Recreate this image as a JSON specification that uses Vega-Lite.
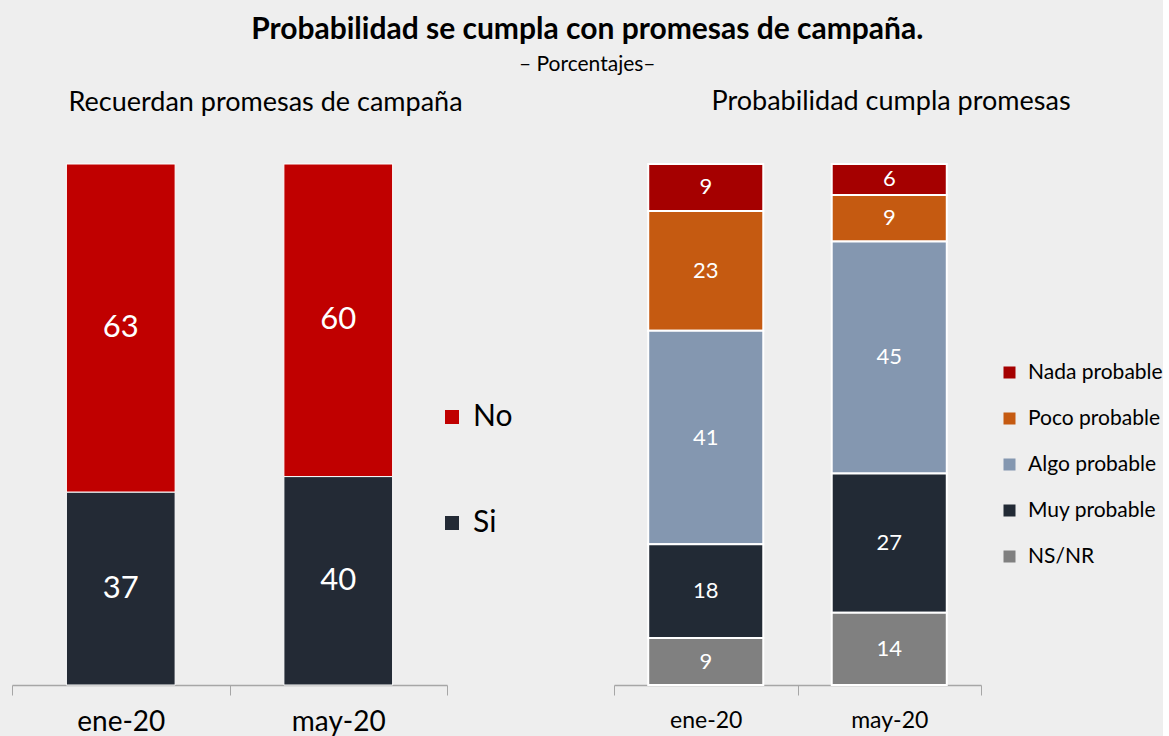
{
  "$schema": "https://vega.github.io/schema/vega-lite/v6.json",
  "background": "#eeeeee",
  "padding": {"left": 11, "top": 15, "right": 0, "bottom": 2},
  "title": {
    "text": "Probabilidad se cumpla con promesas de campaña.",
    "subtitle": "– Porcentajes–",
    "font": "Lato", "fontSize": 30, "fontWeight": "bold", "color": "#000000",
    "subtitleFont": "Lato", "subtitleFontSize": 21, "subtitleColor": "#000000", "subtitlePadding": 9,
    "anchor": "middle", "frame": "bounds", "offset": 13
  },
  "config": {"view": {"stroke": null}, "font": "Lato"},
  "resolve": {"scale": {"color": "independent"}, "legend": {"color": "independent"}},
  "bounds": "flush",
  "spacing": 167,
  "hconcat": [
    {
      "width": 435, "height": 521,
      "title": {"text": "Recuerdan promesas de campaña", "fontSize": 27, "fontWeight": "normal", "color": "#000000", "anchor": "start", "dx": 57, "offset": 47},
      "data": {"values": [
        {"mes": "ene-20", "resp": "No", "valor": 63, "k": 2},
        {"mes": "ene-20", "resp": "Si", "valor": 37, "k": 1},
        {"mes": "may-20", "resp": "No", "valor": 60, "k": 2},
        {"mes": "may-20", "resp": "Si", "valor": 40, "k": 1}
      ]},
      "transform": [
        {"stack": "valor", "groupby": ["mes"], "sort": [{"field": "k"}], "as": ["v0", "v1"], "offset": "normalize"},
        {"calculate": "(datum.v0 + datum.v1) / 2", "as": "mid"}
      ],
      "encoding": {
        "x": {"field": "mes", "type": "nominal", "scale": {"paddingInner": 0, "paddingOuter": 0},
          "axis": {"title": null, "labelAngle": 0, "labelFontSize": 28, "labelColor": "#000000", "domainColor": "#a6a6a6", "tickColor": "#a6a6a6", "tickSize": 10, "tickBand": "extent", "labelPadding": 13, "domainWidth": 1.5}}
      },
      "layer": [
        {
          "mark": {"type": "bar", "stroke": "#ffffff", "strokeWidth": 1, "width": {"band": 0.5}},
          "encoding": {
            "y": {"field": "v0", "type": "quantitative", "scale": {"domain": [0, 1]}, "axis": null},
            "y2": {"field": "v1"},
            "color": {"field": "resp", "type": "nominal",
              "scale": {"domain": ["No", "Si"], "range": ["#C00000", "#232A35"]},
              "legend": {"title": null, "orient": "none", "legendX": 425, "legendY": 238, "labelFontSize": 30, "labelColor": "#000000", "symbolType": "square", "symbolSize": 196, "symbolStrokeWidth": 0, "rowPadding": 76, "labelOffset": 6}}
          }
        },
        {
          "mark": {"type": "text", "color": "#ffffff", "fontSize": 31},
          "encoding": {
            "y": {"field": "mid", "type": "quantitative", "scale": {"domain": [0, 1]}},
            "text": {"field": "valor", "type": "quantitative"}
          }
        }
      ]
    },
    {
      "width": 367, "height": 521,
      "title": {"text": "Probabilidad cumpla promesas", "fontSize": 27, "fontWeight": "normal", "color": "#000000", "anchor": "start", "dx": 98, "offset": 47},
      "data": {"values": [
        {"mes": "ene-20", "cat": "Nada probable", "valor": 9, "k": 5},
        {"mes": "ene-20", "cat": "Poco probable", "valor": 23, "k": 4},
        {"mes": "ene-20", "cat": "Algo probable", "valor": 41, "k": 3},
        {"mes": "ene-20", "cat": "Muy probable", "valor": 18, "k": 2},
        {"mes": "ene-20", "cat": "NS/NR", "valor": 9, "k": 1},
        {"mes": "may-20", "cat": "Nada probable", "valor": 6, "k": 5},
        {"mes": "may-20", "cat": "Poco probable", "valor": 9, "k": 4},
        {"mes": "may-20", "cat": "Algo probable", "valor": 45, "k": 3},
        {"mes": "may-20", "cat": "Muy probable", "valor": 27, "k": 2},
        {"mes": "may-20", "cat": "NS/NR", "valor": 14, "k": 1}
      ]},
      "transform": [
        {"stack": "valor", "groupby": ["mes"], "sort": [{"field": "k"}], "as": ["v0", "v1"], "offset": "normalize"},
        {"calculate": "(datum.v0 + datum.v1) / 2", "as": "mid"}
      ],
      "encoding": {
        "x": {"field": "mes", "type": "nominal", "scale": {"paddingInner": 0, "paddingOuter": 0},
          "axis": {"title": null, "labelAngle": 0, "labelFontSize": 23, "labelColor": "#000000", "domainColor": "#a6a6a6", "tickColor": "#a6a6a6", "tickSize": 10, "tickBand": "extent", "labelPadding": 14, "domainWidth": 1.5}}
      },
      "layer": [
        {
          "mark": {"type": "bar", "stroke": "#ffffff", "strokeWidth": 2, "width": {"band": 0.627}},
          "encoding": {
            "y": {"field": "v0", "type": "quantitative", "scale": {"domain": [0, 1]}, "axis": null},
            "y2": {"field": "v1"},
            "color": {"field": "cat", "type": "nominal",
              "scale": {"domain": ["Nada probable", "Poco probable", "Algo probable", "Muy probable", "NS/NR"], "range": ["#A50000", "#C55A11", "#8497B0", "#222A35", "#808080"]},
              "legend": {"title": null, "orient": "none", "legendX": 385, "legendY": 198, "labelFontSize": 21, "labelColor": "#000000", "symbolType": "square", "symbolSize": 144, "symbolStrokeWidth": 0, "rowPadding": 24, "labelOffset": 8}}
          }
        },
        {
          "mark": {"type": "text", "color": "#ffffff", "fontSize": 22},
          "encoding": {
            "y": {"field": "mid", "type": "quantitative", "scale": {"domain": [0, 1]}},
            "text": {"field": "valor", "type": "quantitative"}
          }
        }
      ]
    }
  ]
}
